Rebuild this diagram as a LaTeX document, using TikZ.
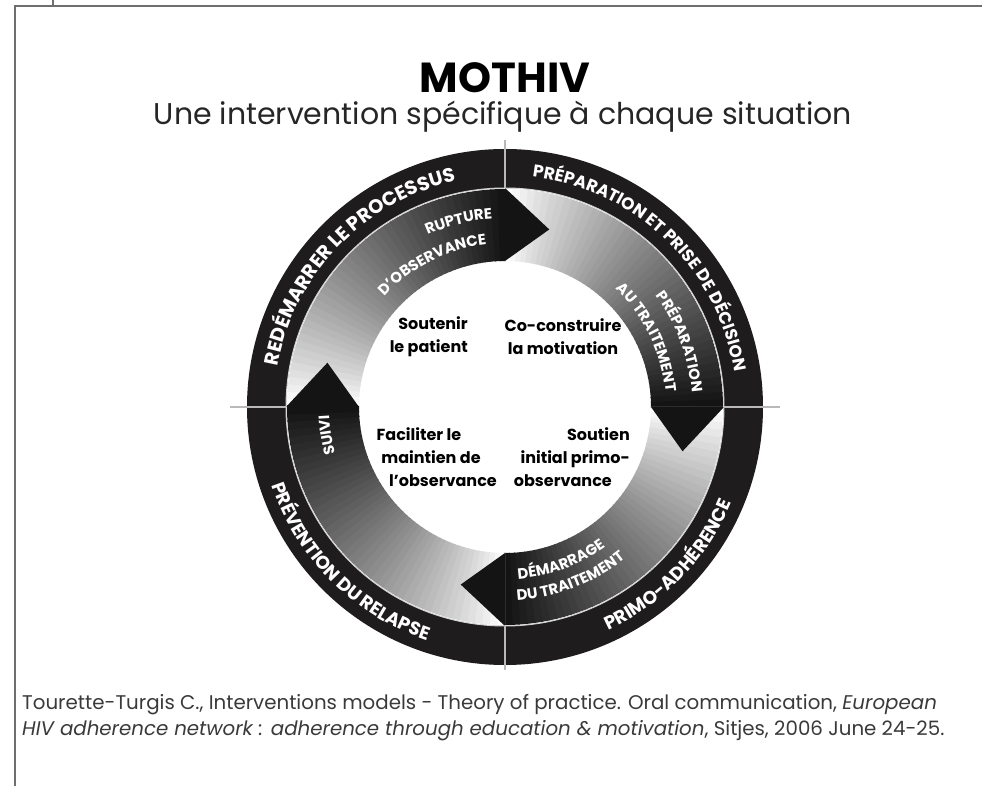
\documentclass[tikz,border=0pt]{standalone}
\usepackage{fontspec}
\setmainfont{Poppins}
\usetikzlibrary{decorations.text}

\definecolor{ringblack}{HTML}{1E1C1C}
\definecolor{framegray}{HTML}{6E6E6E}
\definecolor{citegray}{HTML}{3A3A3A}

\newcommand\ringfont{\bfseries\fontsize{18.5}{18.5}\selectfont}
\newcommand\bandfont{\bfseries\fontsize{15}{15}\selectfont}

\begin{document}
\begin{tikzpicture}[x=1pt, y=1pt,
  curvedlabel/.style={decorate, decoration={text along path, text color=white, text align=center}},
  innertext/.style={font=\bfseries\fontsize{16}{23}\selectfont, inner sep=0pt},
  citetext/.style={font=\fontsize{19.8}{19.8}\selectfont, text=citegray, inner sep=0pt}]
  \useasboundingbox (-505,-379) rectangle (477,407);

  % Frame
  \draw[framegray, line width=2] (477,401) -- (-490,401) -- (-490,-379);
  \draw[framegray, line width=1.2] (-452,407) -- (-452,401);

  % Title
  \node (title) at (0,329) {\bfseries\fontsize{42}{42}\selectfont MOTHIV};
  \node[text=black!85] (subtitle) at (-2,290) {\fontsize{30}{30}\selectfont Une intervention spécifique à chaque situation};

  % Arrow bands (shaded from tail to head)
  \foreach \b in {90,0,-90,-180} {
    \foreach \i in {0,...,44} {
      \pgfmathsetmacro\pct{92*(\i/44)^0.85}
      \pgfmathsetmacro\ta{\b+90-2*\i}
      \pgfmathsetmacro\tb{\ta-2.4}
      \fill[black!\pct] (\ta:146) arc[start angle=\ta, end angle=\tb, radius=146]
        -- (\tb:218) arc[start angle=\tb, end angle=\ta, radius=218] -- cycle;
    }
  }
  % Arrow heads
  \foreach \b in {90,0,-90,-180} {
    \pgfmathsetmacro\tip{\b-14}
    \fill[black!92] (\b:146) -- (\b:219) -- (\tip:183) -- cycle;
  }

  % Outer ring
  \fill[ringblack, even odd rule] (0,0) circle[radius=258] (0,0) circle[radius=219];
  \draw[gray!35, line width=1] (0,0) circle[radius=219];

  % Cross
  \foreach \a/\r in {0/275, 90/267, 180/275, 270/263}
    \draw[gray!55, line width=1.2] (\a:219) -- (\a:\r);

  % Ring labels
  \path[curvedlabel, decoration={text={|\bfseries\fontsize{19.5}{19.5}\selectfont|REDÉMARRER LE PROCESSUS}}]
    (182:231) arc[start angle=182, end angle=90, radius=231];
  \path[curvedlabel, decoration={text={|\bfseries\fontsize{17}{17}\selectfont|PRÉPARATION ET PRISE DE DÉCISION}}]
    (96:232) arc[start angle=96, end angle=-4, radius=232];
  \path[curvedlabel, decoration={text={|\ringfont|PRIMO-ADHÉRENCE}}]
    (280:246) arc[start angle=280, end angle=352, radius=246];
  \path[curvedlabel, decoration={text={|\ringfont|PRÉVENTION DU RELAPSE}}]
    (188:246) arc[start angle=188, end angle=262, radius=246];

  % Band labels
  \path[curvedlabel, decoration={text={|\bandfont|RUPTURE}}]
    (125:188.5) arc[start angle=125, end angle=83, radius=188.5];
  \path[curvedlabel, decoration={text={|\bandfont|D'OBSERVANCE}}]
    (150:163.5) arc[start angle=150, end angle=84, radius=163.5];
  \path[curvedlabel, decoration={text={|\bandfont|PRÉPARATION}}]
    (45:187.5) arc[start angle=45, end angle=-4, radius=187.5];
  \path[curvedlabel, decoration={text={|\bandfont|AU TRAITEMENT}}]
    (55:161.5) arc[start angle=55, end angle=-3, radius=161.5];
  \path[curvedlabel, decoration={text={|\bandfont|DÉMARRAGE}}]
    (265:172.5) arc[start angle=265, end angle=315, radius=172.5];
  \path[curvedlabel, decoration={text={|\bandfont|DU TRAITEMENT}}]
    (265:193.5) arc[start angle=265, end angle=317, radius=193.5];
  \path[curvedlabel, decoration={text={|\bandfont|SUIVI}}]
    (203:176) arc[start angle=203, end angle=175, radius=176];

  % Centre texts
  \node[innertext, align=right, anchor=east] (soutenir) at (-37,70) {Soutenir\\le patient};
  \node[innertext, align=center] (coconstruire) at (58,70) {Co-construire\\la motivation};
  \node[innertext, align=center] (faciliter) at (-74,-50) {Faciliter le\hspace*{24pt}\\maintien de\\\hspace*{24pt}l'observance};
  \node[innertext, align=right, anchor=east] (soutien) at (125,-50) {Soutien\\initial primo-\\observance\hspace*{18pt}};

  % Reference
  \node[citetext, anchor=west] (citeA) at (-483,-298)
    {Tourette-Turgis C., Interventions models - Theory of practice. Oral communication, \textit{European}};
  \node[citetext, anchor=west] (citeB) at (-483,-324)
    {\textit{HIV adherence network : adherence through education \& motivation}, Sitjes, 2006 June 24-25.};
\end{tikzpicture}
\end{document}
